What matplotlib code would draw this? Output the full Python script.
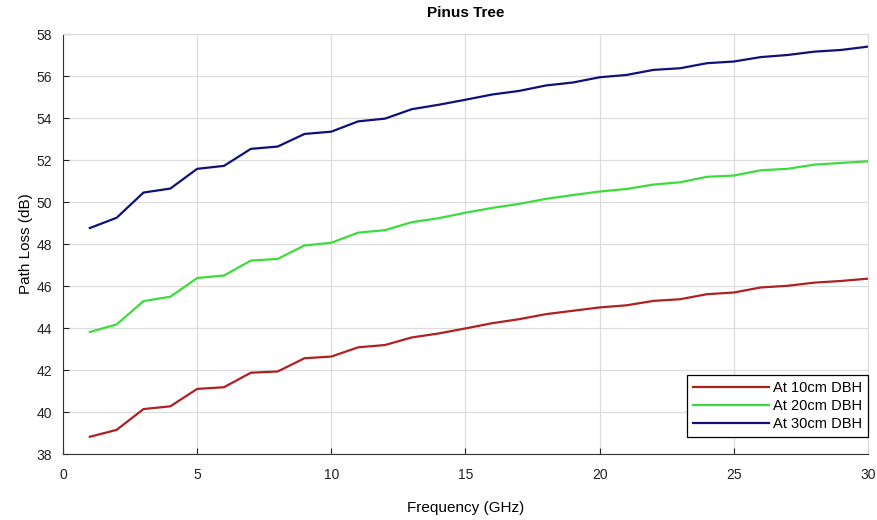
import matplotlib
matplotlib.use("Agg")
import matplotlib.pyplot as plt

plt.rcParams['font.family'] = ['Liberation Sans', 'DejaVu Sans']

# Frequency points (GHz)
freq = list(range(1, 31))

# Path loss (dB)
loss_10cm = [38.82, 39.15, 40.14, 40.27, 41.10, 41.18, 41.87, 41.93, 42.56, 42.64,
             43.08, 43.19, 43.55, 43.74, 43.98, 44.23, 44.42, 44.66, 44.82, 44.98,
             45.08, 45.29, 45.37, 45.61, 45.69, 45.93, 46.01, 46.16, 46.24, 46.35]
loss_20cm = [43.81, 44.17, 45.28, 45.49, 46.38, 46.50, 47.21, 47.29, 47.93, 48.06,
             48.54, 48.66, 49.04, 49.23, 49.49, 49.72, 49.91, 50.15, 50.33, 50.50,
             50.62, 50.83, 50.94, 51.20, 51.26, 51.51, 51.58, 51.78, 51.86, 51.94]
loss_30cm = [48.76, 49.25, 50.45, 50.64, 51.58, 51.72, 52.53, 52.64, 53.24, 53.35,
             53.84, 53.97, 54.42, 54.63, 54.87, 55.12, 55.29, 55.55, 55.69, 55.94,
             56.05, 56.29, 56.37, 56.61, 56.69, 56.90, 57.00, 57.16, 57.24, 57.40]

labels = ['At 10cm DBH', 'At 20cm DBH', 'At 30cm DBH']
colors = ['#b02020', '#3ddc3d', '#10107a']

fig = plt.figure(figsize=(8.78, 5.20), dpi=100)
ax = fig.add_axes([63 / 878, 1 - 454 / 520, 805 / 878, 420 / 520])

for y, lab, c in zip([loss_10cm, loss_20cm, loss_30cm], labels, colors):
    ax.plot(freq, y, color=c, linewidth=1.6, label=lab)

ax.set_xlim(0, 30)
ax.set_ylim(38, 58)
ax.set_xticks(range(0, 31, 5))
ax.set_yticks(range(38, 59, 2))
ax.grid(True, color='#dcdcdc', linewidth=0.9)
ax.set_axisbelow(True)
ax.tick_params(direction='in', labelsize=10, colors='#222222', length=4)
ax.tick_params(axis='x', pad=10)
ax.tick_params(axis='y', pad=8)

for s in ['left', 'bottom']:
    ax.spines[s].set_color('#333333')
for s in ['top', 'right']:
    ax.spines[s].set_color('#dcdcdc')

ax.set_title('Pinus Tree', fontsize=11, fontweight='bold', pad=12)
ax.set_ylabel('Path Loss (dB)', fontsize=11, labelpad=2)
ax.set_xlabel('Frequency (GHz)', fontsize=11, labelpad=14)

leg = ax.legend(loc='lower right', bbox_to_anchor=(1.0, 0.04), fontsize=10.5,
                fancybox=False, framealpha=1, edgecolor='black',
                handlelength=5.2, handletextpad=0.3, borderaxespad=0,
                labelspacing=0.3)
leg.get_frame().set_linewidth(0.9)

plt.savefig('out.png', dpi=100)
